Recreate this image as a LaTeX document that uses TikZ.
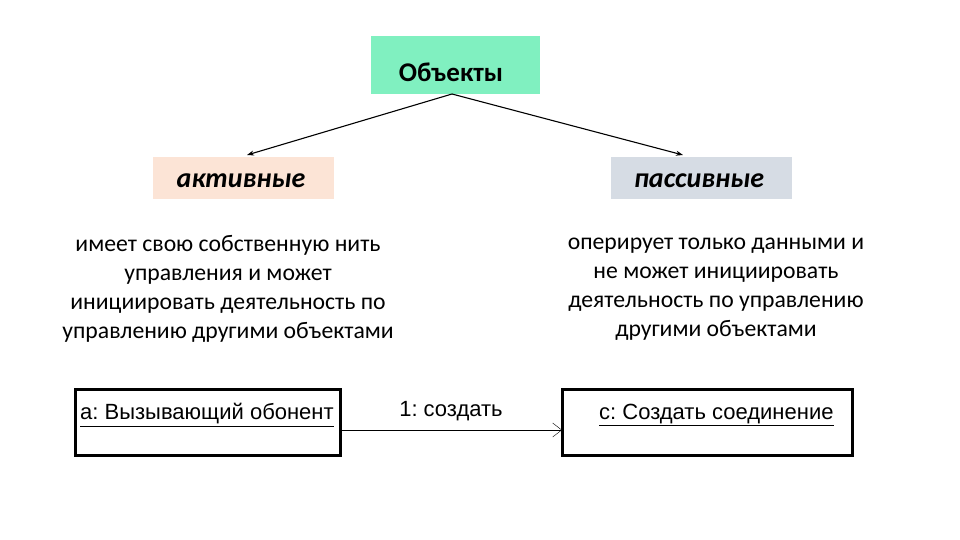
\documentclass[tikz,border=0pt]{standalone}
\usepackage{fontspec}
\setmainfont{Carlito}
\newfontfamily\umlfont{Liberation Sans}
\usetikzlibrary{positioning, arrows.meta}
\frenchspacing

\definecolor{mint}{RGB}{128,240,192}
\definecolor{peach}{RGB}{252,228,214}
\definecolor{steelgrey}{RGB}{214,220,228}

\begin{document}
\begin{tikzpicture}[x=1pt, y=-1pt,
        kind/.style={minimum width=181pt, minimum height=42pt, inner sep=0pt},
        kindtext/.style={inner sep=0pt, font=\fontsize{28}{32}\selectfont\bfseries\itshape},
        note/.style={align=center, inner sep=0pt, font=\fontsize{23.7}{29}\selectfont},
        umlbox/.style={draw, line width=3pt, inner sep=0pt},
        umltext/.style={inner sep=0pt, font=\umlfont\fontsize{22}{24}\selectfont}]
    \useasboundingbox (0, 0) rectangle (960, 540);

    \node [fill=mint, minimum width=169pt, minimum height=58pt, inner sep=0pt] (objects) at (455.5, 65) {};
    \node [font=\fontsize{27}{30}\selectfont\bfseries] (objectsLabel) at (451, 72) {Объекты};

    \node [kind, fill=peach] (active) at (243.5, 178) {};
    \node [kind, fill=steelgrey] (passive) at (701.5, 178) {};
    \node [kindtext] (activeLabel) at (241, 180.5) {активные};
    \node [kindtext] (passiveLabel) at (699, 180.5) {пассивные};

    \coordinate (fork) at (452, 94);
    \draw [line width=1.1pt, -{Stealth[length=7pt, width=5pt]}] (fork) -- (247, 155);
    \draw [line width=1.1pt, -{Stealth[length=7pt, width=5pt]}] (fork) -- (683, 155);

    \node [note] (activeText) at (228, 289) {имеет свою собственную нить\\управления и может\\инициировать деятельность по\\управлению другими объектами};
    \node [note] (passiveText) at (716, 289) {оперирует только данными и\\не может инициировать\\деятельность по управлению\\другими объектами};

    % uml
    \draw [umlbox] (75, 389) rectangle (340, 455);
    \draw [umlbox] (562, 389) rectangle (852, 455);
    \node [umltext, anchor=west] (caller) at (80, 415) {\underline{a: Вызывающий обонент}};
    \node [umltext, anchor=west] (connect) at (599, 415) {\underline{с: Создать соединение}};
    \coordinate (callerEnd) at (340, 430);
    \coordinate (connectEnd) at (562, 430);
    \draw [-{Straight Barb[length=9pt, width=14pt]}] (callerEnd) -- node [umltext, above=9pt] {1: создать} (connectEnd);
\end{tikzpicture}
\end{document}
